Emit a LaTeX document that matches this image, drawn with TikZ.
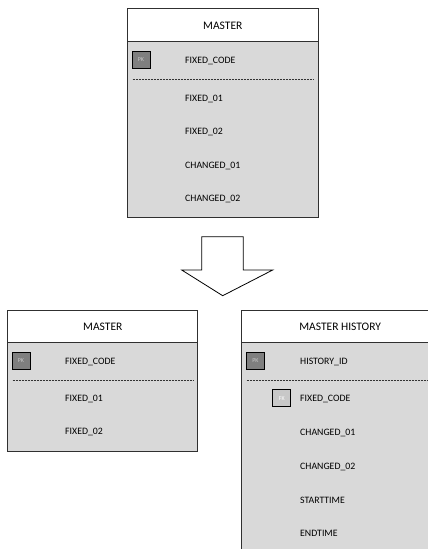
\documentclass[tikz,border=0pt]{standalone}
\usepackage{fontspec}
\setmainfont{Carlito}
\definecolor{tblgrey}{HTML}{D9D9D9}
\definecolor{pkgrey}{HTML}{7F7F7F}
\definecolor{pktext}{HTML}{C8C8C8}
\definecolor{fkgrey}{HTML}{C8C8C8}
\definecolor{edge}{HTML}{303030}
\begin{document}
\begin{tikzpicture}[x=1pt,y=-1pt,
  tbl/.style={draw=edge, line width=0.9pt, fill=tblgrey, anchor=north west, inner sep=0, outer sep=0},
  hdr/.style={draw=edge, line width=0.9pt, fill=white, anchor=north west, inner sep=0, outer sep=0},
  title/.style={font=\fontsize{11.5}{12}\selectfont, inner sep=0},
  field/.style={anchor=west, font=\fontsize{9.8}{10}\selectfont, inner sep=0},
  keybox/.style={draw=black, line width=0.7pt, minimum width=18pt, minimum height=17pt, inner sep=0, font=\fontsize{6}{6}\selectfont},
  pk/.style={keybox, fill=pkgrey, text=pktext},
  fk/.style={keybox, fill=fkgrey, text=white},
  sep/.style={line width=0.6pt, draw=black!80, dash pattern=on 0.6pt off 0.9pt},
  bigarrow/.style={draw=black, line width=0.8pt, fill=white, line join=miter}
]
\clip (0,0) rectangle (428,549);
\fill[white] (0,0) rectangle (428,549);

% ---------- top MASTER table ----------
\node[tbl, minimum width=191pt, minimum height=209pt] (t1) at (127.3,8.5) {};
\node[hdr, minimum width=191pt, minimum height=33.2pt] (t1h) at (127.3,8.5) {};
\node[title] (t1t) at (222.8,25.5) {MASTER};
\node[pk] (t1pk) at (141,60) {PK};
\node[field] (t1f1) at (185,61) {FIXED\_CODE};
\coordinate (t1sa) at (132.7,79.5);
\coordinate (t1sb) at (313.5,79.5);
\draw[sep] (t1sa) -- (t1sb);
\node[field] (t1f2) at (185,99.3) {FIXED\_01};
\node[field] (t1f3) at (185,131.7) {FIXED\_02};
\node[field] (t1f4) at (185,165.7) {CHANGED\_01};
\node[field] (t1f5) at (185,199) {CHANGED\_02};

% ---------- arrow ----------
\coordinate (a1) at (201.7,236.7);
\coordinate (a2) at (243.3,236.7);
\coordinate (a3) at (243.3,270);
\coordinate (a4) at (272.7,270);
\coordinate (a5) at (222.7,295.7);
\coordinate (a6) at (181.7,270);
\coordinate (a7) at (201.7,270);
\draw[bigarrow] (a1) -- (a2) -- (a3) -- (a4) -- (a5) -- (a6) -- (a7) -- cycle;

% ---------- bottom-left MASTER table ----------
\node[tbl, minimum width=190pt, minimum height=141pt] (t2) at (7.3,310) {};
\node[hdr, minimum width=190pt, minimum height=32.3pt] (t2h) at (7.3,310) {};
\node[title] (t2t) at (102.8,326.7) {MASTER};
\node[pk] (t2pk) at (21,361) {PK};
\node[field] (t2f1) at (65,361.7) {FIXED\_CODE};
\coordinate (t2sa) at (12.7,380);
\coordinate (t2sb) at (193,380);
\draw[sep] (t2sa) -- (t2sb);
\node[field] (t2f2) at (65,399.3) {FIXED\_01};
\node[field] (t2f3) at (65,432.3) {FIXED\_02};

% ---------- MASTER HISTORY table ----------
\node[tbl, minimum width=197pt, minimum height=260pt] (t3) at (241.7,310) {};
\node[hdr, minimum width=197pt, minimum height=32.3pt] (t3h) at (241.7,310) {};
\node[title] (t3t) at (340.2,326.7) {MASTER HISTORY};
\node[pk] (t3pk) at (255.5,361) {PK};
\node[field] (t3f1) at (300,361.7) {HISTORY\_ID};
\coordinate (t3sa) at (246.7,380);
\coordinate (t3sb) at (428,380);
\draw[sep] (t3sa) -- (t3sb);
\node[fk] (t3fk) at (281.7,398.3) {FK};
\node[field] (t3f2) at (300,399.3) {FIXED\_CODE};
\node[field] (t3f3) at (300,433.3) {CHANGED\_01};
\node[field] (t3f4) at (300,466.7) {CHANGED\_02};
\node[field] (t3f5) at (300,500) {STARTTIME};
\node[field] (t3f6) at (300,533.3) {ENDTIME};
\end{tikzpicture}
\end{document}
